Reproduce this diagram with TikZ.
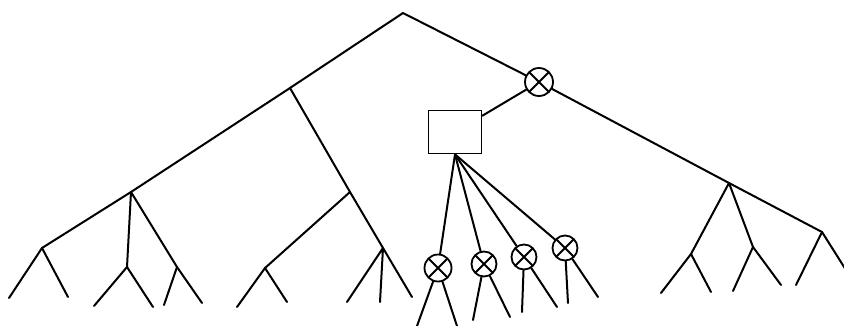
\documentclass[tikz,border=0pt]{standalone}
\usetikzlibrary{positioning}

\begin{document}
\begin{tikzpicture}[
  x=1pt, y=-1pt,
  branch/.style={line width=2pt, line cap=round, line join=round},
  mult/.style={circle, draw, line width=1.8pt, minimum size=27pt, inner sep=0pt,
    path picture={\draw[line width=1.8pt]
      (path picture bounding box.north west) -- (path picture bounding box.south east)
      (path picture bounding box.north east) -- (path picture bounding box.south west);}},
  box/.style={rectangle, draw, line width=1.8pt, minimum width=53pt, minimum height=43pt}
]
\useasboundingbox (0,0) rectangle (844,325);

\coordinate (root) at (403,13);
\coordinate (a) at (290,88);
\coordinate (b) at (131,192);
\coordinate (c) at (42,248);
\coordinate (c1) at (9,298);
\coordinate (c2) at (68,297);
\coordinate (b1) at (127,267);
\coordinate (b2) at (177,267);
\coordinate (b11) at (94,306);
\coordinate (b12) at (153,307);
\coordinate (b21) at (164,305);
\coordinate (b22) at (202,303);
\coordinate (d) at (350,192);
\coordinate (e) at (383,248);
\coordinate (e1) at (347,302);
\coordinate (e2) at (380,302);
\coordinate (e3) at (412,297);
\coordinate (f) at (265,268);
\coordinate (f1) at (237,307);
\coordinate (f2) at (287,302);

\node[mult, minimum size=28pt] (x0) at (539,82) {};
\coordinate (g) at (729,183);
\coordinate (h) at (822,232);
\coordinate (h1) at (796,285);
\coordinate (h2) at (846,270);
\coordinate (g1) at (691,254);
\coordinate (g2) at (753,247);
\coordinate (g11) at (661,293);
\coordinate (g12) at (711,292);
\coordinate (g21) at (733,291);
\coordinate (g22) at (781,285);

\node[box] (sq) at (455,132) {};
\node[mult] (x1) at (438,268) {};
\node[mult, minimum size=25pt] (x2) at (484,264) {};
\node[mult, minimum size=25pt] (x3) at (524,257) {};
\node[mult, minimum size=25pt] (x4) at (565,248) {};
\coordinate (x11) at (417,326);
\coordinate (x12) at (457,326);
\coordinate (x21) at (473,320);
\coordinate (x22) at (510,317);
\coordinate (x31) at (522,312);
\coordinate (x32) at (557,307);
\coordinate (x41) at (568,303);
\coordinate (x42) at (598,297);

\draw[branch] (c) -- (b) -- (a) -- (root) -- (x0) -- (g) -- (h) -- (h2);
\draw[branch] (c1) -- (c) -- (c2);
\draw[branch] (b) -- (b1) (b) -- (b2) -- (b22);
\draw[branch] (b11) -- (b1) -- (b12);
\draw[branch] (b2) -- (b21);
\draw[branch] (a) -- (d) -- (e) -- (e3);
\draw[branch] (e1) -- (e) -- (e2);
\draw[branch] (d) -- (f);
\draw[branch] (f1) -- (f) -- (f2);
\draw[branch] (h) -- (h1);
\draw[branch] (g) -- (g1) (g) -- (g2);
\draw[branch] (g11) -- (g1) -- (g12);
\draw[branch] (g21) -- (g2) -- (g22);
\draw[branch] (sq) -- (x0);
\draw[branch] (sq.south) -- (x1);
\draw[branch] (sq.south) -- (x2);
\draw[branch] (sq.south) -- (x3);
\draw[branch] (sq.south) -- (x4);
\draw[branch] (x11) -- (x1) -- (x12);
\draw[branch] (x21) -- (x2) -- (x22);
\draw[branch] (x31) -- (x3) -- (x32);
\draw[branch] (x41) -- (x4) -- (x42);
\end{tikzpicture}
\end{document}
